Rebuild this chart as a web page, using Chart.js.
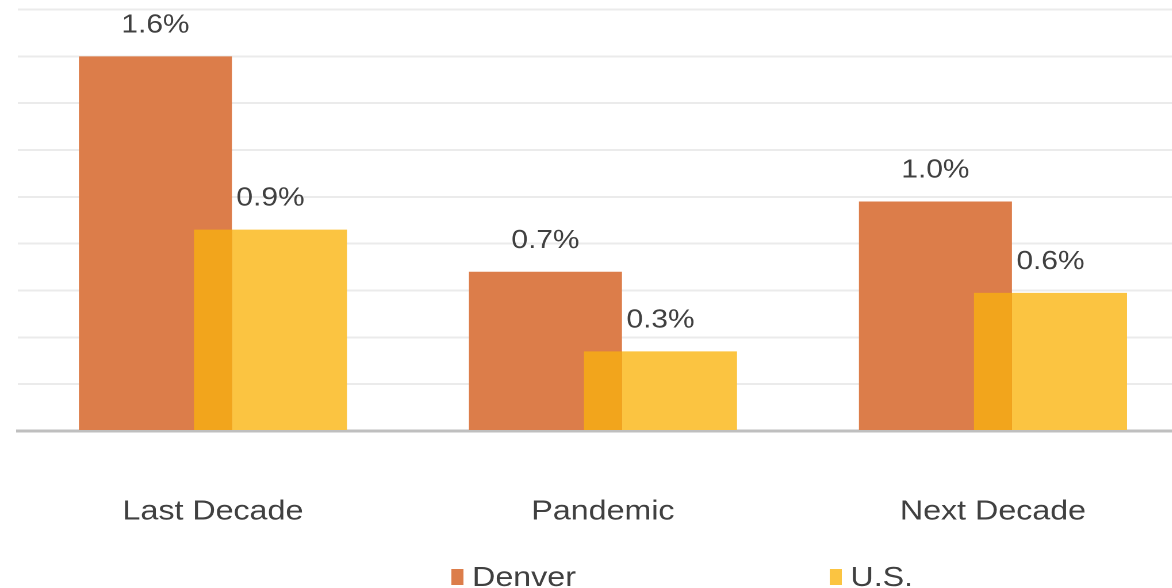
<!DOCTYPE html>
<html>
<head>
<meta charset="utf-8">
<title>Denver vs U.S.</title>
<script src="https://cdn.jsdelivr.net/npm/chart.js@4/dist/chart.umd.min.js"></script>
<style>
  html, body { margin: 0; padding: 0; background: #ffffff; overflow: hidden; width: 1172px; height: 588px; }
  #wrap { position: absolute; left: 0; top: 0; width: 1040px; height: 588px; transform: scaleX(1.15); transform-origin: 0 0; }
</style>
</head>
<body>
<div id="wrap"><canvas id="chart" width="1040" height="588"></canvas></div>
<script>
// Annual growth, percent
const categories = ['Last Decade', 'Pandemic', 'Next Decade'];
const seriesNames = ['Denver', 'U.S.'];
const denverValues = [1.60, 0.68, 0.98];
const usValues = [0.86, 0.34, 0.59];
const axisMin = 0;
const axisMax = 1.8;
const axisStep = 0.2;

const FONT = '"Liberation Sans", Arial, Helvetica, sans-serif';
const TEXT = '#404040';

const fmtPct = v => v.toFixed(1) + '%';

// Paints the region where the two bars of a category overlap.
const overlapPlugin = {
  id: 'overlap',
  afterDatasetsDraw(chart, args, opts) {
    const m0 = chart.getDatasetMeta(0), m1 = chart.getDatasetMeta(1);
    const ctx = chart.ctx;
    ctx.save();
    ctx.fillStyle = opts.color;
    m0.data.forEach((a, i) => {
      const b = m1.data[i];
      if (!b) return;
      const pa = a.getProps(['x', 'y', 'base', 'width'], true);
      const pb = b.getProps(['x', 'y', 'base', 'width'], true);
      const left = Math.max(pa.x - pa.width / 2, pb.x - pb.width / 2);
      const right = Math.min(pa.x + pa.width / 2, pb.x + pb.width / 2);
      const top = Math.max(pa.y, pb.y);
      const bottom = Math.min(pa.base, pb.base);
      if (right > left && bottom > top) ctx.fillRect(left, top, right - left, bottom - top);
    });
    ctx.restore();
  }
};

// Value labels above each bar.
const valueLabelPlugin = {
  id: 'valueLabels',
  afterDatasetsDraw(chart, args, opts) {
    const ctx = chart.ctx;
    ctx.save();
    ctx.font = opts.size + 'px ' + FONT;
    ctx.fillStyle = opts.color;
    ctx.textAlign = 'center';
    ctx.textBaseline = 'alphabetic';
    chart.data.datasets.forEach((ds, di) => {
      chart.getDatasetMeta(di).data.forEach((el, i) => {
        ctx.fillText(fmtPct(ds.data[i]), el.x, el.y - opts.gap);
      });
    });
    ctx.restore();
  }
};

// Bottom legend with widely spaced entries.
const spacedLegendPlugin = {
  id: 'spacedLegend',
  afterDraw(chart, args, opts) {
    const ctx = chart.ctx;
    ctx.save();
    ctx.font = opts.size + 'px ' + FONT;
    ctx.textBaseline = 'alphabetic';
    ctx.textAlign = 'left';
    chart.data.datasets.forEach((ds, i) => {
      const x = opts.x[i];
      ctx.fillStyle = ds.backgroundColor;
      ctx.fillRect(x, opts.boxTop, opts.boxW, opts.boxH);
      ctx.fillStyle = opts.color;
      ctx.fillText(ds.label, x + opts.boxW + opts.textGap, opts.baseline);
    });
    ctx.restore();
  }
};

new Chart(document.getElementById('chart'), {
  type: 'bar',
  data: {
    labels: categories,
    datasets: [
      { label: seriesNames[0], data: denverValues, backgroundColor: '#DC7D4A' },
      { label: seriesNames[1], data: usValues, backgroundColor: '#FBC441' }
    ]
  },
  options: {
    responsive: false,
    animation: false,
    devicePixelRatio: 2,
    categoryPercentage: 0.59,
    barPercentage: 1.33,
    layout: { padding: { left: 15.6, right: 7, top: 9.5, bottom: 0 } },
    plugins: {
      legend: { display: false },
      tooltip: { enabled: false },
      overlap: { color: '#F2A51C' },
      valueLabels: { size: 26, color: TEXT, gap: 24 },
      spacedLegend: { x: [392.5, 721.5], boxTop: 569, boxW: 10.5, boxH: 16, textGap: 7.5, baseline: 586, size: 28, color: TEXT }
    },
    scales: {
      x: {
        grid: { display: false, drawTicks: false },
        border: { display: true, color: '#BFBFBF', width: 3 },
        ticks: { color: TEXT, font: { family: FONT, size: 28 }, padding: 64, autoSkip: false, maxRotation: 0 },
        afterFit(scale) { scale.height = 157; }
      },
      y: {
        min: axisMin,
        max: axisMax,
        ticks: { display: false, stepSize: axisStep },
        grid: { color: '#EBEBEB', lineWidth: 2, drawTicks: false },
        border: { display: false }
      }
    }
  },
  plugins: [overlapPlugin, valueLabelPlugin, spacedLegendPlugin]
});
</script>
</body>
</html>
